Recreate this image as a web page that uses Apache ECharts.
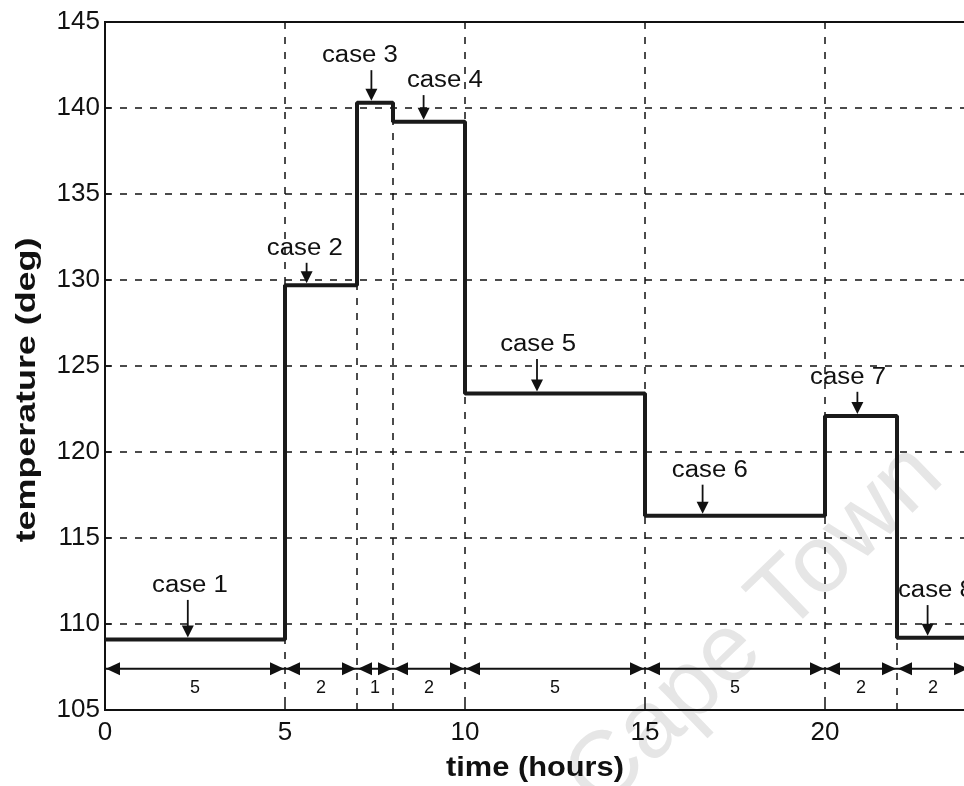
<!DOCTYPE html>
<html><head><meta charset="utf-8">
<script src="https://cdn.jsdelivr.net/npm/echarts@6/dist/echarts.min.js"></script>
<style>html,body{margin:0;padding:0;background:#fff}#c{width:964px;height:786px}</style>
</head><body><div id="c"></div>
<script>
// ---- data ----
const segStart = [0, 5, 7, 8, 10, 15, 20, 22];
const segEnd   = [5, 7, 8, 10, 15, 20, 22, 24];
const temps    = [109.1, 129.7, 140.3, 139.2, 123.4, 116.3, 122.1, 109.2];
const durationLabels = ['5', '2', '1', '2', '5', '5', '2', '2'];
const caseNames = ['case 1', 'case 2', 'case 3', 'case 4', 'case 5', 'case 6', 'case 7', 'case 8'];
const caseArrowX = [2.3, 5.6, 7.4, 8.85, 12.0, 16.6, 20.9, 22.85];
const caseArrowTop = [111.4, 131.0, 142.2, 140.75, 125.4, 118.1, 123.5, 111.1];
const caseLabelX = [2.36, 5.55, 7.08, 9.44, 12.03, 16.8, 20.64, 23.08];
const dimLineValue = 107.4;
const dimLabelValue = 106.3;
const xMin = 0, xMax = 24, xStep = 5;
const yMin = 105, yMax = 145, yStep = 5;
const xAxisName = 'time (hours)';
const yAxisName = 'temperature (deg)';
const watermark = 'Cape Town';

// ---- derived ----
const stepPoints = [];
segStart.forEach((s, i) => { stepPoints.push([s, temps[i]]); stepPoints.push([segEnd[i], temps[i]]); });
const caseData = caseNames.map((n, i) => {
  const k = segStart.findIndex((s, j) => caseArrowX[i] >= s && caseArrowX[i] <= segEnd[j]);
  return [caseArrowX[i], caseArrowTop[i], temps[k], caseLabelX[i], n];
});
const dimData = segStart.map((s, i) => [s, segEnd[i], durationLabels[i]]);
const boundaryData = [];
for (let i = 1; i < segStart.length; i++) {
  const b = segStart[i];
  if (b % xStep !== 0) boundaryData.push([b, Math.min(temps[i - 1], temps[i])]);
}

const FONT = '"Liberation Sans", Arial, Helvetica, sans-serif';
const INK = '#111';

const chart = echarts.init(document.getElementById('c'), null, { renderer: 'canvas' });
chart.setOption({
  animation: false,
  backgroundColor: '#fff',
  grid: { left: 105, top: 22, right: -5, bottom: 76, outerBoundsMode: 'none', containLabel: false,
          show: true, borderColor: INK, borderWidth: 2, backgroundColor: 'transparent' },
  xAxis: {
    type: 'value', min: xMin, max: xMax, interval: xStep,
    axisLine: { show: true, onZero: false, lineStyle: { color: INK, width: 2 } },
    axisTick: { show: true, inside: true, length: 6, lineStyle: { color: INK, width: 1.5 } },
    axisLabel: { fontFamily: FONT, fontSize: 26, color: INK, margin: 10, showMaxLabel: false },
    splitLine: { show: true, lineStyle: { color: INK, width: 1.5, type: [7, 8] } }
  },
  yAxis: {
    type: 'value', min: yMin, max: yMax, interval: yStep,
    axisLine: { show: true, onZero: false, lineStyle: { color: INK, width: 2 } },
    axisTick: { show: true, inside: true, length: 6, lineStyle: { color: INK, width: 1.5 } },
    axisLabel: { fontFamily: FONT, fontSize: 26, color: INK, margin: 5 },
    splitLine: { show: true, lineStyle: { color: INK, width: 1.5, type: [7, 8] } }
  },
  graphic: [
    { type: 'text', z: -10, x: 755, y: 628, rotation: Math.PI * 44 / 180,
      style: { text: watermark, fill: '#e6e6e6', font: '96px ' + FONT, textAlign: 'center', textVerticalAlign: 'middle' } },
    { type: 'text', x: 27, y: 390, rotation: Math.PI / 2, scaleX: 1.28,
      style: { text: yAxisName, fill: INK, font: 'bold 28px ' + FONT, textAlign: 'center', textVerticalAlign: 'middle' } },
    { type: 'text', x: 535, y: 768, scaleX: 1.1,
      style: { text: xAxisName, fill: INK, font: 'bold 28px ' + FONT, textAlign: 'center', textVerticalAlign: 'middle' } }
  ],
  series: [
    {
      type: 'custom', name: 'boundaries', z: 3, data: boundaryData,
      renderItem: (params, api) => {
        const p1 = api.coord([api.value(0), yMin]);
        const p2 = api.coord([api.value(0), api.value(1)]);
        return { type: 'line', shape: { x1: p1[0], y1: p1[1], x2: p2[0], y2: p2[1] },
          style: { stroke: INK, lineWidth: 1.5, lineDash: [7, 8] } };
      }
    },
    {
      type: 'line', name: 'temperature', z: 5, data: stepPoints, symbol: 'none',
      lineStyle: { color: '#1a1a1a', width: 4 }
    },
    {
      type: 'custom', name: 'durations', z: 4, data: dimData,
      renderItem: (params, api) => {
        const a = api.coord([api.value(0), dimLineValue]);
        const b = api.coord([api.value(1), dimLineValue]);
        const m = api.coord([(api.value(0) + api.value(1)) / 2, dimLabelValue]);
        const L = 15, H = 6.5;
        return { type: 'group', children: [
          { type: 'line', shape: { x1: a[0], y1: a[1], x2: b[0], y2: b[1] }, style: { stroke: INK, lineWidth: 2 } },
          { type: 'polygon', shape: { points: [[a[0] + 1, a[1]], [a[0] + L, a[1] - H], [a[0] + L, a[1] + H]] }, style: { fill: INK } },
          { type: 'polygon', shape: { points: [[b[0] - 1, b[1]], [b[0] - L, b[1] - H], [b[0] - L, b[1] + H]] }, style: { fill: INK } },
          { type: 'text', x: m[0], y: m[1], style: { text: dimData[params.dataIndex][2], fill: INK, font: '18px ' + FONT, textAlign: 'center', textVerticalAlign: 'middle' } }
        ] };
      }
    },
    {
      type: 'custom', name: 'cases', z: 6, data: caseData,
      renderItem: (params, api) => {
        const t = api.coord([api.value(0), api.value(1)]);
        const h = api.coord([api.value(0), api.value(2)]);
        const lab = api.coord([api.value(3), api.value(1)]);
        const tipY = h[1] - 2;
        const HL = 12, HW = 6;
        return { type: 'group', children: [
          { type: 'line', shape: { x1: t[0], y1: t[1], x2: t[0], y2: tipY - HL + 1 }, style: { stroke: INK, lineWidth: 1.8 } },
          { type: 'polygon', shape: { points: [[t[0], tipY], [t[0] - HW, tipY - HL], [t[0] + HW, tipY - HL]] }, style: { fill: INK } },
          { type: 'text', x: lab[0], y: t[1] - 3, scaleX: 1.12,
            style: { text: caseData[params.dataIndex][4], fill: INK, font: '23px ' + FONT, textAlign: 'center', textVerticalAlign: 'bottom' } }
        ] };
      }
    }
  ]
});
</script>
</body></html>
